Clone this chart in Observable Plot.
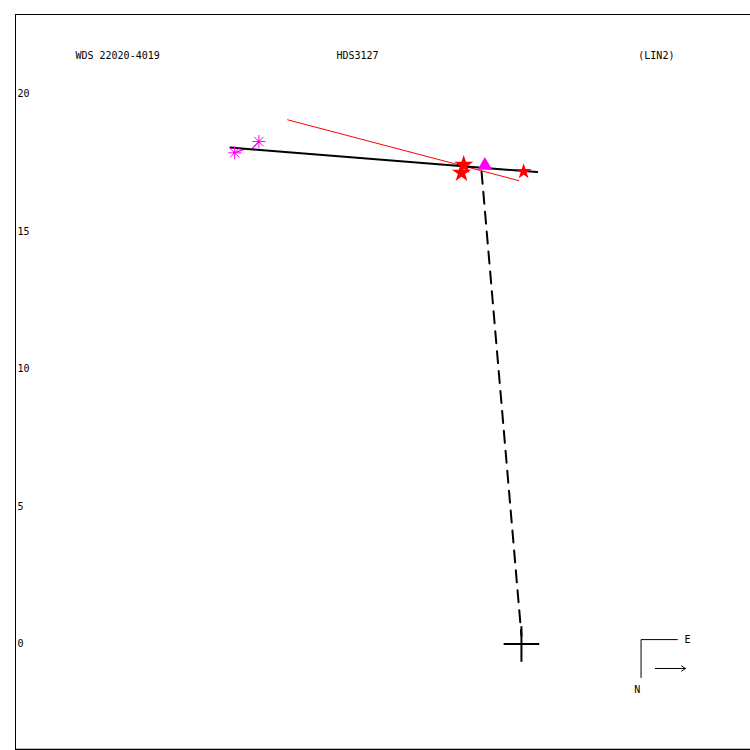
<!DOCTYPE html>
<html>
<head>
<meta charset="utf-8">
<script src="https://cdn.jsdelivr.net/npm/d3@7"></script>
<script src="https://cdn.jsdelivr.net/npm/@observablehq/plot@0.6"></script>
<style>
  html, body { margin: 0; padding: 0; background: #fff; }
  svg { display: block; }
</style>
</head>
<body>
<div id="chart"></div>
<script>
// Axis extents (arcsec-like units)
const xDomain = [-18.4, 8.33];
const yDomain = [-3.836, 22.89];
const yTicks = [0, 5, 10, 15, 20];

// Header labels
const headerText = ["WDS 22020-4019", "HDS3127", "(LIN2)"];
const headerX = [-16.22, -6.73, 4.25];
const headerY = [21.4, 21.4, 21.4];

// Orbit (fitted) line
const orbitX = [-10.58, 0.57];
const orbitY = [18.05, 17.16];

// Previous orbit line (red)
const prevX = [-8.50, -0.10];
const prevY = [19.06, 16.85];

// Observations: magenta asterisks
const astX = [-10.43, -9.55];
const astY = [17.86, 18.27];
const astResX = [-10.0, -9.8];
const astResY = [18.02, 18.00];

// Observations: red stars (large)
const starX = [-2.10, -2.18];
const starY = [17.42, 17.13];
// small star
const smallStarX = [0.08];
const smallStarY = [17.18];

// Magenta triangle
const triX = [-1.33];
const triY = [17.40];

// Dashed line: current position to primary
const dashX = [-1.45, 0];
const dashY = [17.17, 0.3];

// Primary cross
const crossX = [0];
const crossY = [0];

// Orientation indicator
const compCorner = [4.35, 0.16];
const compEastEnd = [5.67, 0.16];
const compNorthEnd = [4.35, -1.22];
const arrowFrom = [4.87, -0.89];
const arrowTo = [5.96, -0.89];
const compLabels = ["E", "N"];
const compLabelX = [5.93, 4.1];
const compLabelY = [0.16, -1.68];

const font = "DejaVu Sans Mono, monospace";

const seg = (xs, ys) => xs.map((x, i) => ({x, y: ys[i]}));

const chart = Plot.plot({
  width: 750,
  height: 750,
  marginLeft: 15,
  marginRight: 0,
  marginTop: 14,
  marginBottom: 1,
  x: {domain: xDomain, axis: null},
  y: {domain: yDomain, axis: null},
  style: {fontFamily: font, fontSize: "10px", background: "#fff"},
  marks: [
    // frame (top, left, bottom)
    Plot.ruleY([yDomain[1]], {stroke: "black", strokeWidth: 1}),
    Plot.ruleY([yDomain[0]], {stroke: "black", strokeWidth: 1.5}),
    Plot.ruleX([xDomain[0]], {stroke: "black", strokeWidth: 1}),
    // y tick labels
    Plot.text(yTicks, {x: xDomain[0], y: d => d, text: d => String(d), textAnchor: "start", dx: 2, fill: "black", fontSize: 10}),
    // header
    Plot.text(headerText, {x: (d, i) => headerX[i], y: (d, i) => headerY[i], text: d => d, textAnchor: "start", fill: "black", fontSize: 10}),
    // previous orbit (red)
    Plot.line(seg(prevX, prevY), {x: "x", y: "y", stroke: "red", strokeWidth: 1}),
    // residuals
    Plot.link(astX.map((x, i) => ({x1: x, y1: astY[i], x2: astResX[i], y2: astResY[i]})), {x1: "x1", y1: "y1", x2: "x2", y2: "y2", stroke: "magenta", strokeWidth: 1.2}),
    // orbit line
    Plot.line(seg(orbitX, orbitY), {x: "x", y: "y", stroke: "black", strokeWidth: 2}),
    // dashed line to primary
    Plot.line(seg(dashX, dashY), {x: "x", y: "y", stroke: "black", strokeWidth: 2, strokeDasharray: "12,8"}),
    // asterisks
    Plot.dot(seg(astX, astY), {x: "x", y: "y", symbol: "plus", r: 4.3, stroke: "magenta", strokeWidth: 1}),
    Plot.dot(seg(astX, astY), {x: "x", y: "y", symbol: "times", r: 4.3, stroke: "magenta", strokeWidth: 1}),
    Plot.dot(seg(astX, astY), {x: "x", y: "y", r: 1.5, fill: "magenta"}),
    // red stars
    Plot.dot(seg(starX, starY), {x: "x", y: "y", symbol: "star", r: 6, fill: "red"}),
    Plot.dot(seg(smallStarX, smallStarY), {x: "x", y: "y", symbol: "star", r: 5, fill: "red"}),
    // triangle
    Plot.dot(seg(triX, triY), {x: "x", y: "y", symbol: "triangle", r: 5.5, fill: "magenta"}),
    // primary cross
    Plot.dot(seg(crossX, crossY), {x: "x", y: "y", symbol: "plus", r: 11.5, stroke: "black", strokeWidth: 2}),
    // orientation indicator
    Plot.line([{x: compEastEnd[0], y: compEastEnd[1]}, {x: compCorner[0], y: compCorner[1]}, {x: compNorthEnd[0], y: compNorthEnd[1]}], {x: "x", y: "y", stroke: "black", strokeWidth: 1}),
    Plot.arrow([{x1: arrowFrom[0], y1: arrowFrom[1], x2: arrowTo[0], y2: arrowTo[1]}], {x1: "x1", y1: "y1", x2: "x2", y2: "y2", stroke: "black", strokeWidth: 1, headLength: 7, headAngle: 70}),
    Plot.text(compLabels, {x: (d, i) => compLabelX[i], y: (d, i) => compLabelY[i], text: d => d, textAnchor: "start", fill: "black", fontSize: 10})
  ]
});

document.getElementById("chart").appendChild(chart);
</script>
</body>
</html>
